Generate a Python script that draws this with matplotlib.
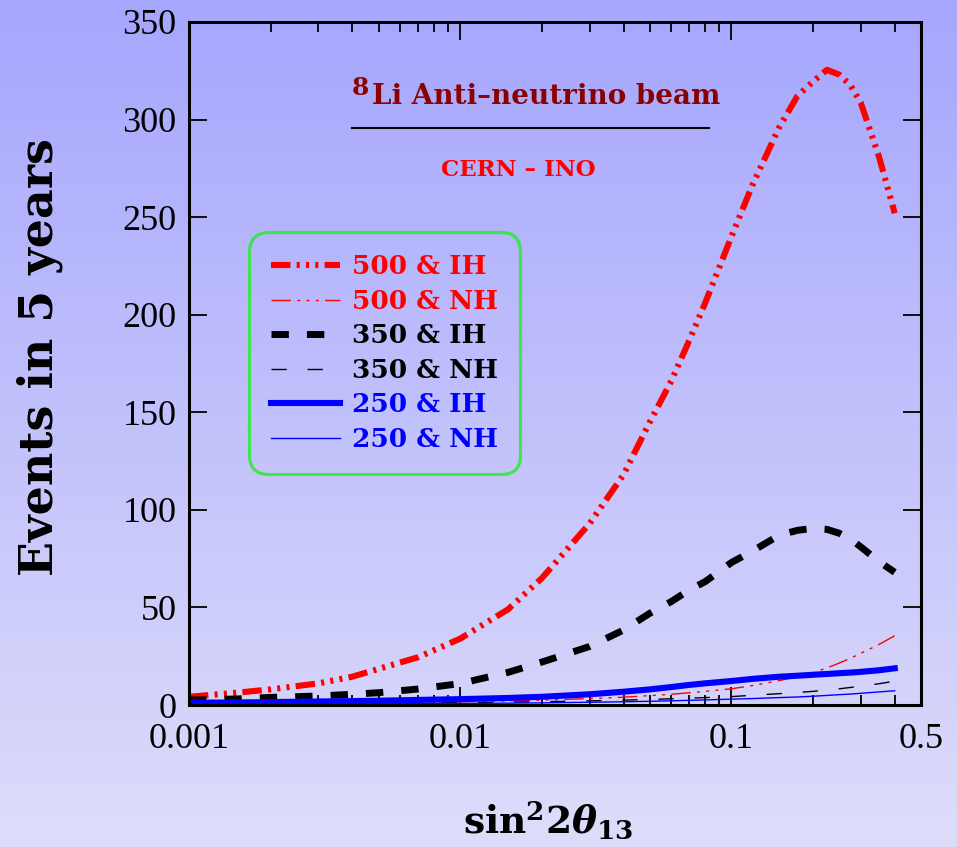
import numpy as np
import matplotlib
matplotlib.use('Agg')
import matplotlib.pyplot as plt
from matplotlib.lines import Line2D

plt.rcParams['lines.scale_dashes'] = False
plt.rcParams['mathtext.fontset'] = 'dejavuserif'

# sin^2 2theta13 grid
s2t = [0.001, 0.0015, 0.002, 0.003, 0.004, 0.005, 0.007, 0.01, 0.015, 0.02,
       0.03, 0.04, 0.05, 0.06, 0.07, 0.08, 0.1, 0.12, 0.15,
       0.175, 0.2, 0.225, 0.25, 0.275, 0.3, 0.35, 0.4]

# events in 5 years
ev_500_ih = [4.2, 6.3, 8, 11.1, 14.5, 18.5, 24.5, 34, 49, 65,
             93, 118, 145, 166, 187, 206, 240, 267, 296,
             312, 319.5, 325.5, 323, 317.5, 308.5, 281, 252]
ev_500_nh = [0.6, 0.7, 0.8, 1.0, 1.1, 1.2, 1.4, 1.7, 2.1, 2.5,
             3.3, 4.0, 4.8, 5.5, 6.3, 7.0, 8.3, 10, 12.5,
             14.5, 16.5, 19, 21.5, 24, 26.5, 31, 35.5]
ev_350_ih = [2.5, 3.1, 3.9, 4.6, 5.5, 6.3, 8.2, 11, 16.7, 22,
             30, 38.4, 47, 53, 59, 63.2, 73, 79, 87,
             89.5, 90.5, 90, 88, 85, 81, 73.5, 68]
ev_350_nh = [0.5, 0.55, 0.6, 0.7, 0.8, 0.9, 1.0, 1.2, 1.5, 1.7,
             2.1, 2.5, 2.8, 3.2, 3.5, 3.8, 4.3, 5, 5.8,
             6.4, 7, 7.6, 8.3, 9, 9.6, 10.9, 12.2]
ev_250_ih = [1.2, 1.3, 1.5, 1.8, 2.0, 2.2, 2.6, 3, 3.6, 4.2,
             5.5, 6.8, 8, 9.2, 10.3, 11.1, 12.3, 13.4, 14.5,
             15, 15.5, 15.9, 16.3, 16.6, 17, 17.8, 18.8]
ev_250_nh = [0.3, 0.35, 0.4, 0.5, 0.55, 0.6, 0.7, 0.8, 0.95, 1.1,
             1.4, 1.65, 1.9, 2.15, 2.4, 2.6, 3, 3.3, 3.8,
             4.1, 4.5, 4.9, 5.3, 5.6, 6, 6.7, 7.3]

labels = ['500 & IH', '500 & NH', '350 & IH', '350 & NH', '250 & IH', '250 & NH']

fig = plt.figure(figsize=(9.57, 8.47), dpi=100)

# gradient background
bg = fig.add_axes([0, 0, 1, 1], zorder=-10)
top = np.array([166, 166, 254]) / 255
bot = np.array([221, 221, 250]) / 255
t = np.linspace(0, 1, 256)[:, None]
grad = top[None, None, :] * (1 - t[..., None]) + bot[None, None, :] * t[..., None]
grad = np.repeat(grad, 2, axis=1)
bg.imshow(grad, aspect='auto', extent=[0, 1, 0, 1])
bg.axis('off')

ax = fig.add_axes([189/957, 1 - 705/847, (921-189)/957, (705-22)/847])
ax.patch.set_alpha(0)

dd = [14, 4.5, 2.2, 4.5, 2.2, 4.5, 2.2, 4.5]
ax.plot(s2t, ev_500_ih, color='red', lw=4.4, dashes=dd, label=labels[0])
ax.plot(s2t, ev_500_nh, color='red', lw=1.0, dashes=dd, label=labels[1])
ax.plot(s2t, ev_350_ih, color='black', lw=5, dashes=[12.5, 13], label=labels[2])
ax.plot(s2t, ev_350_nh, color='black', lw=1.0, dashes=[11, 15], label=labels[3])
ax.plot(s2t, ev_250_ih, color='blue', lw=4.4, label=labels[4])
ax.plot(s2t, ev_250_nh, color='blue', lw=1.0, label=labels[5])

ax.set_xscale('log')
ax.set_xlim(0.001, 0.5)
ax.set_ylim(0, 350)
ax.set_xticks([0.001, 0.01, 0.1, 0.5])
ax.set_xticklabels(['0.001', '0.01', '0.1', '0.5'])
ax.set_yticks(np.arange(0, 351, 50))
ax.tick_params(which='both', direction='in', top=True, right=True, width=1.3)
ax.tick_params(which='major', length=13)
ax.tick_params(which='minor', length=7)
ax.tick_params(axis='x', which='major', pad=13)
ax.tick_params(axis='y', which='major', pad=9)
for lab in ax.get_xticklabels() + ax.get_yticklabels():
    lab.set_fontfamily('Liberation Serif')
    lab.set_fontsize(26)
for sp in ax.spines.values():
    sp.set_linewidth(2.2)

leg = ax.legend(loc='upper left', bbox_to_anchor=(249/957, 1 - 232/847),
                bbox_transform=fig.transFigure, labelcolor='linecolor',
                prop={'family': 'DejaVu Serif', 'weight': 'bold', 'size': 19},
                handlelength=2.6, handletextpad=0.45, labelspacing=0.36,
                borderpad=0.85, borderaxespad=0, fancybox=True)
frame = leg.get_frame()
frame.set_facecolor('none')
frame.set_edgecolor('#22ee22')
frame.set_linewidth(2.3)
frame.set_boxstyle('round', pad=0, rounding_size=0.75)

# title block
fig.text(360/957, 1 - 95/847, '8', color='#8b0000', fontsize=18,
         family='DejaVu Serif', weight='bold', ha='center', va='baseline')
fig.text(546/957, 1 - 104/847, 'Li Anti\u2013neutrino beam', color='#8b0000',
         fontsize=20, family='DejaVu Serif', weight='bold', ha='center', va='baseline')
fig.add_artist(Line2D([352/957, 709/957], [1 - 128/847, 1 - 128/847],
                      color='black', lw=1.5, transform=fig.transFigure))
fig.text(518/957, 1 - 170/847, 'CERN \u2013 INO', color='red', fontsize=16.5,
         family='DejaVu Serif', weight='bold', ha='center', va='center')

fig.text(40/957, 1 - 357/847, 'Events in 5 years', rotation=90, fontsize=33,
         family='DejaVu Serif', weight='bold', ha='center', va='center')
fig.text(548/957, 1 - 833/847, r'$\mathbf{sin^2 2}\boldsymbol{\theta}_{\mathbf{13}}$',
         fontsize=27, ha='center', va='baseline')

fig.savefig('out.png', dpi=100)
